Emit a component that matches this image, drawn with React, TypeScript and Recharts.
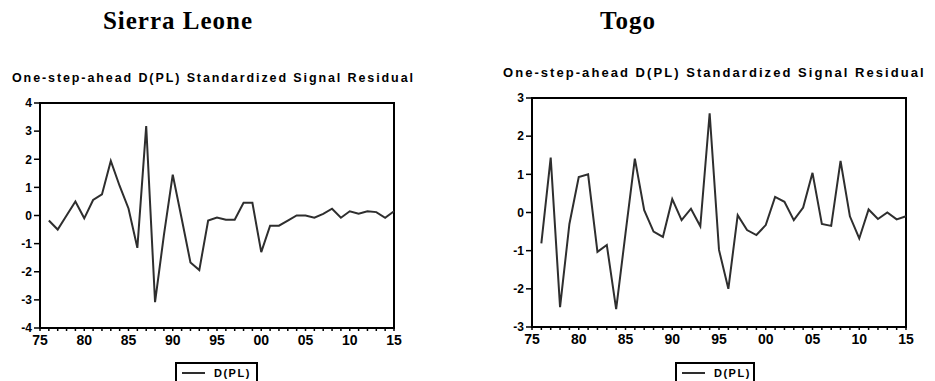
import { Line, LineChart, ReferenceArea, XAxis, YAxis } from "recharts"

// Kalman-filter one-step-ahead standardized signal residuals, D(PL), 1976–2015

const YEARS = [
  1976, 1977, 1978, 1979, 1980, 1981, 1982, 1983, 1984, 1985,
  1986, 1987, 1988, 1989, 1990, 1991, 1992, 1993, 1994, 1995,
  1996, 1997, 1998, 1999, 2000, 2001, 2002, 2003, 2004, 2005,
  2006, 2007, 2008, 2009, 2010, 2011, 2012, 2013, 2014, 2015,
]

const SIERRA_LEONE = [
  -0.18, -0.5, 0.0, 0.5, -0.1, 0.55, 0.75, 1.94, 1.05, 0.25,
  -1.15, 3.18, -3.08, -0.7, 1.45, -0.1, -1.67, -1.94, -0.18, -0.07,
  -0.15, -0.15, 0.45, 0.45, -1.3, -0.36, -0.36, -0.18, 0.0, 0.0,
  -0.08, 0.06, 0.24, -0.08, 0.15, 0.06, 0.15, 0.12, -0.08, 0.15,
]

const TOGO = [
  -0.81, 1.44, -2.48, -0.3, 0.93, 1.0, -1.03, -0.85, -2.53, -0.55,
  1.41, 0.06, -0.5, -0.64, 0.35, -0.2, 0.1, -0.36, 2.6, -0.98,
  -2.0, -0.07, -0.46, -0.59, -0.33, 0.41, 0.28, -0.2, 0.13, 1.04,
  -0.3, -0.35, 1.35, -0.1, -0.68, 0.08, -0.17, 0.0, -0.18, -0.1,
]

// yearly minor ticks, labelled every fifth year as two digits
const X_TICKS = [1975, ...YEARS]
const SL_Y_TICKS = [-4, -3, -2, -1, 0, 1, 2, 3, 4]
const TOGO_Y_TICKS = [-3, -2, -1, 0, 1, 2, 3]

const SUBTITLE = "One-step-ahead D(PL) Standardized Signal Residual"
const SERIES_NAME = "D(PL)"

const INK = "#000000"
const LINE = "#2e2e2e"
const SANS = "'Liberation Sans', Arial, sans-serif"
const SERIF = "'Liberation Serif', 'Times New Roman', serif"

function yearLabel(y: number) {
  return y % 5 === 0 ? String(y).slice(2) : ""
}

type TickProps = { x?: number; y?: number; payload?: { value: number } }

function YearTick({ x, y, payload }: TickProps) {
  if (x == null || y == null || !payload) return null
  const label = yearLabel(payload.value)
  if (!label) return <g />
  return (
    <text
      x={x}
      y={y}
      dy="0.71em"
      textAnchor="middle"
      fill={INK}
      fontSize={14}
      fontWeight={700}
      fontFamily={SANS}
    >
      {label}
    </text>
  )
}

function ValueTick({ x, y, payload }: TickProps) {
  if (x == null || y == null || !payload) return null
  return (
    <text
      x={x}
      y={y}
      dy="0.355em"
      textAnchor="end"
      fill={INK}
      fontSize={12}
      fontWeight={700}
      fontFamily={SANS}
    >
      {payload.value}
    </text>
  )
}

function ResidualPanel({
  values,
  yTicks,
  width,
  height,
  marginRight,
  yAxisWidth,
}: {
  values: number[]
  yTicks: number[]
  width: number
  height: number
  marginRight: number
  yAxisWidth: number
}) {
  const data = YEARS.map((year, i) => ({ year, value: values[i] }))
  const lo = yTicks[0]
  const hi = yTicks[yTicks.length - 1]
  return (
    <LineChart
      width={width}
      height={height}
      data={data}
      margin={{ top: 8, right: marginRight, bottom: 0, left: 0 }}
    >
      <XAxis
        dataKey="year"
        type="number"
        domain={[1975, 2015]}
        ticks={X_TICKS}
        interval={0}
        axisLine={false}
        tickLine={{ stroke: INK, strokeWidth: 1.5 }}
        tickSize={3}
        tickMargin={4}
        height={27}
        tick={<YearTick />}
      />
      <YAxis
        type="number"
        domain={[lo, hi]}
        ticks={yTicks}
        interval={0}
        axisLine={false}
        tickLine={{ stroke: INK, strokeWidth: 1.5 }}
        tickSize={6}
        tickMargin={2}
        width={yAxisWidth}
        tick={<ValueTick />}
      />
      <ReferenceArea
        x1={1975}
        x2={2015}
        y1={lo}
        y2={hi}
        fill="none"
        stroke={INK}
        strokeWidth={2}
      />
      <Line
        type="linear"
        dataKey="value"
        stroke={LINE}
        strokeWidth={2}
        dot={false}
        activeDot={false}
        isAnimationActive={false}
      />
    </LineChart>
  )
}

function LegendBox({ left, width }: { left: number; width: number }) {
  return (
    <div
      style={{
        position: "absolute",
        left,
        top: 362,
        width,
        height: 21,
        boxSizing: "border-box",
        border: `2px solid ${INK}`,
        display: "flex",
        alignItems: "center",
        paddingLeft: 5,
      }}
    >
      <div style={{ width: 23, height: 2, background: LINE }} />
      <span
        style={{
          marginLeft: 9,
          fontFamily: SANS,
          fontWeight: 700,
          fontSize: 11,
          letterSpacing: 1.5,
        }}
      >
        {SERIES_NAME}
      </span>
    </div>
  )
}

export default function App() {
  return (
    <div
      style={{
        position: "absolute",
        left: 0,
        top: 0,
        width: 935,
        height: 381,
        background: "#ffffff",
        overflow: "hidden",
      }}
    >
      <div
        style={{
          position: "absolute",
          left: 78,
          top: 8,
          width: 200,
          textAlign: "center",
          fontFamily: SERIF,
          fontWeight: 700,
          fontSize: 25,
          lineHeight: "25px",
          letterSpacing: 1,
        }}
      >
        Sierra Leone
      </div>
      <div
        style={{
          position: "absolute",
          left: 528,
          top: 8,
          width: 200,
          textAlign: "center",
          fontFamily: SERIF,
          fontWeight: 700,
          fontSize: 25,
          lineHeight: "25px",
          letterSpacing: 1,
        }}
      >
        Togo
      </div>

      <div
        style={{
          position: "absolute",
          left: 12,
          top: 72,
          whiteSpace: "nowrap",
          fontFamily: SANS,
          fontWeight: 700,
          fontSize: 12.5,
          lineHeight: "13px",
          letterSpacing: 1.9,
        }}
      >
        {SUBTITLE}
      </div>
      <div
        style={{
          position: "absolute",
          left: 503,
          top: 66,
          whiteSpace: "nowrap",
          fontFamily: SANS,
          fontWeight: 700,
          fontSize: 13,
          lineHeight: "13px",
          letterSpacing: 2.05,
        }}
      >
        {SUBTITLE}
      </div>

      <div style={{ position: "absolute", left: 0, top: 95 }}>
        <ResidualPanel
          values={SIERRA_LEONE}
          yTicks={SL_Y_TICKS}
          width={410}
          height={260}
          marginRight={16}
          yAxisWidth={40}
        />
      </div>
      <div style={{ position: "absolute", left: 490, top: 90 }}>
        <ResidualPanel
          values={TOGO}
          yTicks={TOGO_Y_TICKS}
          width={425}
          height={264}
          marginRight={9}
          yAxisWidth={42}
        />
      </div>

      <LegendBox left={175} width={83} />
      <LegendBox left={675} width={80} />
    </div>
  )
}
